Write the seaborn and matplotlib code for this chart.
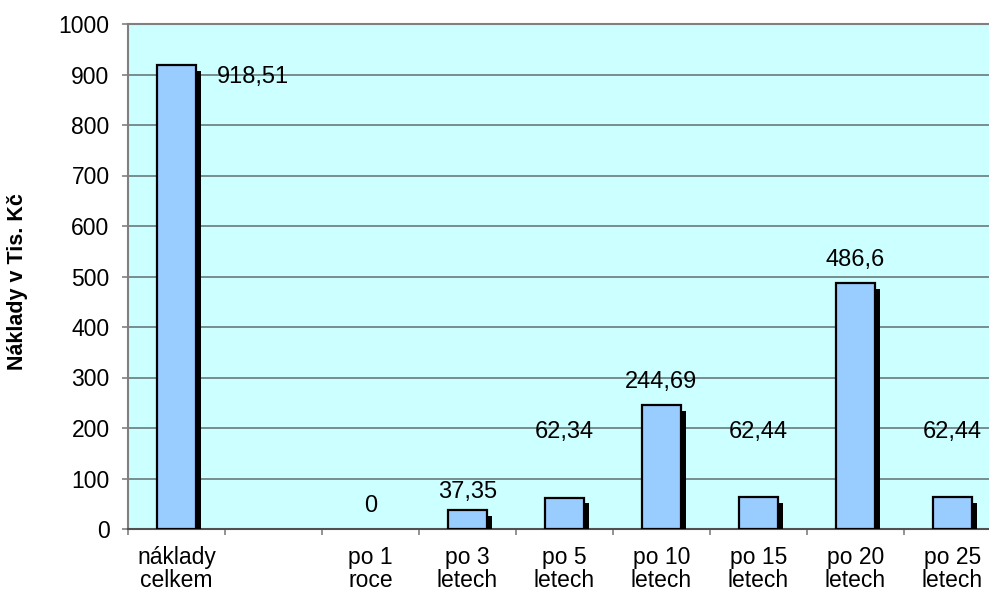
import matplotlib
matplotlib.use("Agg")
import matplotlib.pyplot as plt
import matplotlib.patheffects as pe
from matplotlib.ticker import FixedLocator, MultipleLocator
import seaborn as sns
import pandas as pd
import numpy as np

categories = ["náklady\ncelkem", " ", "po 1\nroce", "po 3\nletech", "po 5\nletech",
              "po 10\nletech", "po 15\nletech", "po 20\nletech", "po 25\nletech"]
values = [918.51, np.nan, 0, 37.35, 62.34, 244.69, 62.44, 486.6, 62.44]
value_labels = ["918,51", "", "0", "37,35", "62,34", "244,69", "62,44", "486,6", "62,44"]
y_label = "Náklady v Tis. Kč"

# layout of value labels (x offset in category units, label centre height)
label_dx = [0.79, 0, 0, 0, 0, 0, 0, 0, 0]
label_y = [896, None, 45, 74, 193, 291, 193, 533, 193]

sns.set_theme(style="white")
plt.rcParams['font.family'] = ['Liberation Sans', 'DejaVu Sans']
plt.rcParams['text.color'] = 'black'
plt.rcParams['xtick.color'] = 'black'
plt.rcParams['ytick.color'] = 'black'
plt.rcParams['axes.labelcolor'] = 'black'

df = pd.DataFrame({"cat": categories, "val": values})

fig = plt.figure(figsize=(9.89, 5.96), dpi=100)
ax = fig.add_axes([128/989, 67/596, 873/989, 505/596])
ax.set_facecolor("#CCFFFF")

sns.barplot(data=df, x="cat", y="val", order=categories, color="#99CCFF",
            saturation=1, width=0.4, edgecolor="black", linewidth=1.6, ax=ax,
            errorbar=None)

for p in ax.patches:
    if p.get_height() == 0 or np.isnan(p.get_height()):
        p.set_visible(False)
        continue
    p.set_path_effects([pe.SimplePatchShadow(offset=(4, -4), shadow_rgbFace="black",
                                             alpha=1.0), pe.Normal()])
    p.set_zorder(3)

ax.set_ylim(0, 1000)
ax.set_xlim(-0.5, len(categories) - 0.5)
ax.yaxis.set_major_locator(MultipleLocator(100))
ax.grid(axis="y", color="#6a7a7a", linewidth=1.2, zorder=0)
ax.set_axisbelow(True)

for i, (lab, ly) in enumerate(zip(value_labels, label_y)):
    if ly is None:
        continue
    ax.text(i + label_dx[i], ly, lab, ha="center", va="center", fontsize=17,
            color="black", zorder=5)

ax.set_xlabel("")
ax.set_ylabel(y_label, fontsize=15.5, fontweight="bold")
ax.yaxis.set_label_coords(-0.1145, 0.49)

ax.tick_params(axis="y", which="major", direction="out", length=4.3, width=1.2,
               color="#808080", labelsize=16.5, pad=9, left=True, labelcolor="black")
ax.tick_params(axis="x", which="major", length=0, labelsize=16.5, pad=12,
               labelcolor="black")
ax.xaxis.set_minor_locator(FixedLocator(np.arange(-0.5, len(categories), 1.0)))
ax.tick_params(axis="x", which="minor", direction="out", length=4.5, width=1.2,
               color="#808080", bottom=True)
for t in ax.get_xticklabels():
    t.set_linespacing(1.04)

for s in ["left", "bottom", "top"]:
    ax.spines[s].set_visible(True)
    ax.spines[s].set_color("#808080")
    ax.spines[s].set_linewidth(1.5)
ax.spines["bottom"].set_color("#505050")
ax.spines["right"].set_visible(False)

fig.savefig("out.png", dpi=100)
